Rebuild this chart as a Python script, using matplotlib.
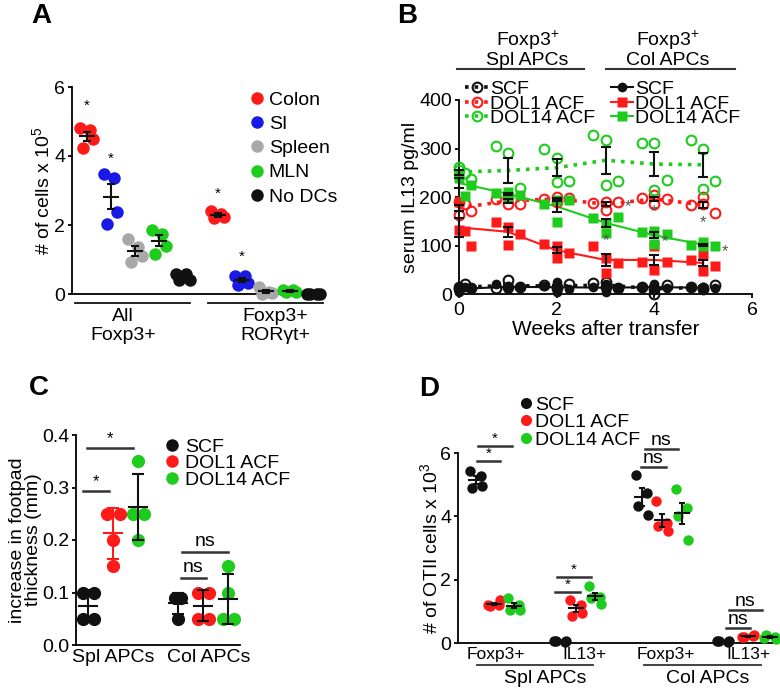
# figure with four panels A-D
import numpy as np
import matplotlib
matplotlib.use('Agg')
from matplotlib import pyplot as plt
from matplotlib.lines import Line2D

plt.rcParams['font.family'] = ['Liberation Sans', 'DejaVu Sans']
plt.rcParams['mathtext.default'] = 'regular'
plt.rcParams['axes.linewidth'] = 1.3
plt.rcParams['xtick.major.width'] = 1.3
plt.rcParams['ytick.major.width'] = 1.3
plt.rcParams['ytick.major.size'] = 3
plt.rcParams['xtick.major.size'] = 3
plt.rcParams['ytick.major.pad'] = 2
plt.rcParams['xtick.major.pad'] = 2.5

RED = '#ff1a1a'
BLUE = '#1a1ae6'
GRAY = '#a8a8a8'
GREEN = '#1ecc1e'
BLACK = '#111111'

# ---------------- panel A data ----------------
a_names = ['Colon', 'SI', 'Spleen', 'MLN', 'No DCs']
a_colors = [RED, BLUE, GRAY, GREEN, BLACK]
a_all = [[4.81, 4.74, 4.50, 4.23],
         [3.49, 3.37, 2.37, 2.03],
         [1.58, 1.37, 1.10, 0.94],
         [1.85, 1.75, 1.40, 1.16],
         [0.58, 0.58, 0.40, 0.40]]
a_ror = [[2.41, 2.33, 2.24, 2.19],
         [0.52, 0.52, 0.31, 0.26],
         [0.21, 0.07, 0.02, 0.00],
         [0.12, 0.12, 0.05, 0.05],
         [0.00, 0.00, 0.00, 0.00]]
a_pos1 = [0, 1, 2, 3, 4]
a_pos2 = [5.45, 6.45, 7.45, 8.45, 9.45]
a_groups = ['All\nFoxp3+', 'Foxp3+\nROR\u03b3t+']
a_star_x = [0, 1, 5.45, 6.45]
a_star_y = [5.25, 3.72, 2.7, 0.87]

# ---------------- panel B data ----------------
weeks = [0, 1, 2, 3, 4, 5]
spl_scf = [[15, 10, 20, 12], [12, 28, 15, 14], [18, 15, 12, 20],
           [22, 15, 25, 12], [15, 0, 10, 18], [15, 12, 10, 18]]
spl_dol1 = [[190, 163, 185, 172], [196, 186, 200, 186], [196, 200, 190, 198],
            [188, 173, 190, 190], [197, 186, 204, 196], [183, 199, 186, 168]]
spl_dol14 = [[262, 256, 250, 238], [306, 290, 205, 218], [300, 280, 230, 232],
             [328, 318, 225, 232], [312, 311, 214, 235], [318, 298, 216, 234]]
col_scf = [[10, 5, 15, 12], [20, 14, 10, 15], [16, 5, 25, 10],
           [15, 5, 20, 12], [15, 20, 10, 12], [14, 10, 15, 12]]
col_dol1 = [[190, 132, 130, 98], [149, 139, 101, 124], [104, 98, 75, 84],
            [99, 75, 44, 63], [67, 98, 49, 67], [70, 80, 48, 58]]
col_dol14 = [[248, 240, 202, 225], [209, 202, 211, 205], [185, 194, 149, 194],
             [157, 146, 125, 159], [127, 130, 104, 123], [102, 98, 108, 99]]
b_off_first = [0, 0, 0.12, 0.25]
b_off = [-0.25, 0, 0, 0.25]
b_star_x = [3.47, 3.02, 4.0, 4.22, 5.0, 5.44]
b_star_y = [165, 94, 155, 93, 132, 72]

# ---------------- panel C data ----------------
c_labels = ['SCF', 'DOL1 ACF', 'DOL14 ACF']
c_colors = [BLACK, RED, GREEN]
c_spl = [[0.10, 0.10, 0.05, 0.05], [0.25, 0.25, 0.20, 0.15], [0.35, 0.25, 0.25, 0.20]]
c_col = [[0.09, 0.09, 0.09, 0.05], [0.10, 0.10, 0.05, 0.05], [0.15, 0.10, 0.05, 0.05]]
c_spl_off = [[-0.22, 0.22, -0.22, 0.22], [-0.25, 0.25, 0, 0], [0, -0.21, 0.21, 0]]
c_col_off = [[-0.12, 0.1, 0, 0], [-0.22, 0.22, -0.22, 0.22], [0, 0, -0.22, 0.22]]
c_pos = [0, 1, 2, 3.6, 4.6, 5.6]

# ---------------- panel D data ----------------
d_spl_foxp3 = [[5.42, 5.26, 4.89, 4.97], [1.20, 1.20, 1.18, 1.35], [1.42, 1.20, 1.05, 1.05]]
d_spl_il13 = [[0.05, 0.04, 0.06, 0.05], [1.37, 1.21, 0.84, 0.95], [1.79, 1.45, 1.42, 1.24]]
d_col_foxp3 = [[5.32, 4.74, 4.32, 4.03], [4.47, 3.80, 3.70, 3.53], [4.85, 4.25, 4.00, 3.26]]
d_col_il13 = [[0.05, 0.04, 0.06, 0.05], [0.20, 0.22, 0.18, 0.25], [0.15, 0.20, 0.25, 0.12]]
d_pos = [[0, 0.9, 1.9], [4.2, 5.0, 5.95], [8.3, 9.3, 10.3], [12.35, 13.6, 14.7]]
d_off = [-0.3, 0.25, -0.2, 0.3]
d_ticks = [1.0, 5.4, 9.5, 13.6]
d_ticklabels = ['Foxp3+', 'IL13+', 'Foxp3+', 'IL13+']


W, H = 780, 693
fig = plt.figure(figsize=(W / 100, H / 100), dpi=100)


def px_axes(l, r, t, b):
    return fig.add_axes([l / W, 1 - b / H, (r - l) / W, (b - t) / H])


def clean(ax):
    ax.spines['top'].set_visible(False)
    ax.spines['right'].set_visible(False)
    ax.tick_params(labelsize=14, direction='out')


def dots(ax, x, vals, offs, color, ms, half, cap, ecolor=BLACK, sem=True):
    vals = np.array(vals, dtype=float)
    m = vals.mean()
    s = vals.std(ddof=1)
    if sem:
        s = s / np.sqrt(len(vals))
    ax.plot(x + np.array(offs), vals, 'o', color=color, ms=ms, mec='none',
            clip_on=False, zorder=3)
    ax.plot([x - half, x + half], [m, m], color=ecolor, lw=1.5, zorder=4,
            clip_on=False)
    ax.errorbar(x, m, yerr=s, fmt='none', ecolor=ecolor, elinewidth=1.5,
                capsize=cap, capthick=1.5, zorder=4)


def sig(ax, x1, x2, y, txt, fs=11, dy=0.0):
    ax.plot([x1, x2], [y, y], color='#333333', lw=1.8, clip_on=False)
    ax.text((x1 + x2) / 2, y + dy, txt, ha='center', va='bottom',
            fontsize=fs, clip_on=False)


# ================= A =================
ax = px_axes(72, 323, 87, 294)
clean(ax)
a_off = [-0.3, 0.12, 0.27, -0.17]
for i in range(5):
    dots(ax, a_pos1[i], a_all[i], a_off, a_colors[i], 9, 0.28, 3)
    dots(ax, a_pos2[i], a_ror[i], a_off, a_colors[i], 9, 0.28, 3)
for sx, sy in zip(a_star_x, a_star_y):
    ax.text(sx, sy, '*', ha='center', va='bottom', fontsize=11)
ax.set_xlim(-0.625, 9.83)
ax.set_ylim(0, 6)
ax.set_yticks([0, 2, 4, 6])
ax.set_xticks([])
ax.set_ylabel('# of cells x 10$^5$', fontsize=14, labelpad=1)
tr = ax.get_xaxis_transform()
ax.plot([-0.5, 4.3], [-0.045, -0.045], color=BLACK, lw=1.3, transform=tr, clip_on=False)
ax.plot([5.04, 9.83], [-0.045, -0.045], color=BLACK, lw=1.3, transform=tr, clip_on=False)
ax.text(1.5, -0.068, a_groups[0], transform=tr, ha='center', va='top', fontsize=14,
        linespacing=1.18)
ax.text(7.83, -0.068, a_groups[1], transform=tr, ha='center', va='top', fontsize=14,
        linespacing=1.18)
hs = [Line2D([], [], marker='o', ls='none', color=c, ms=9, mec='none') for c in a_colors]
ax.legend(hs, a_names, loc='upper left', bbox_to_anchor=(0.71, 0.98), frameon=False,
          fontsize=14, handlelength=0.7, handletextpad=0.25, labelspacing=0.34,
          borderpad=0, borderaxespad=0)

# ================= B =================
ax = px_axes(459, 752, 100, 294)
clean(ax)
series = [
    (spl_scf, BLACK, ':', 'o', False, 7, 'SCF'),
    (spl_dol1, RED, ':', 'o', False, 7, 'DOL1 ACF'),
    (spl_dol14, GREEN, ':', 'o', False, 7, 'DOL14 ACF'),
    (col_scf, BLACK, '-', 'o', True, 7, 'SCF'),
    (col_dol1, RED, '-', 's', True, 6.5, 'DOL1 ACF'),
    (col_dol14, GREEN, '-', 's', True, 6.5, 'DOL14 ACF'),
]
for data, c, ls, mk, filled, ms, lab in series:
    means = [np.mean(v) for v in data]
    sems = [np.std(v, ddof=1) / np.sqrt(len(v)) for v in data]
    lw = 2.6 if ls == ':' else 1.5
    ax.plot(weeks, means, color=c, ls=ls, lw=lw, zorder=2, clip_on=False)
    for w, v in zip(weeks, data):
        offs = b_off_first if w == 0 else b_off
        xs = [w + o for o in offs]
        if filled:
            ax.plot(xs, v, mk, color=c, ms=ms, mec='none', ls='none', zorder=3,
                    clip_on=False)
        else:
            ax.plot(xs, v, mk, mfc='none', mec=c, mew=1.5, ms=ms, ls='none',
                    zorder=3, clip_on=False)
    ax.errorbar(weeks, means, yerr=sems, fmt='none', ecolor=BLACK, elinewidth=1.5,
                capsize=3.5, capthick=1.5, zorder=5, clip_on=False)
for sx, sy in zip(b_star_x, b_star_y):
    ax.text(sx, sy, '*', ha='center', va='bottom', fontsize=12, color='#555555')
ax.set_xlim(0, 6)
ax.set_ylim(0, 400)
ax.set_xticks([0, 2, 4, 6])
ax.set_yticks([0, 100, 200, 300, 400])
ax.set_xlabel('Weeks after transfer', fontsize=15, labelpad=1)
ax.set_ylabel('serum IL13 pg/ml', fontsize=14, labelpad=0)
tr = ax.get_xaxis_transform()
ax.plot([-0.04, 2.56], [1.16, 1.16], color='#333333', lw=1.5, transform=tr, clip_on=False)
ax.plot([3.02, 5.66], [1.16, 1.16], color='#333333', lw=1.5, transform=tr, clip_on=False)
ax.text(1.4, 1.158, 'Foxp3$^{+}$\nSpl APCs', transform=tr, ha='center', va='bottom',
        fontsize=14, linespacing=1.0)
ax.text(4.28, 1.158, 'Foxp3$^{+}$\nCol APCs', transform=tr, ha='center', va='bottom',
        fontsize=14, linespacing=1.0)
h_spl = []
h_col = []
for data, c, ls, mk, filled, ms, lab in series:
    if filled:
        h = Line2D([], [], color=c, ls=ls, lw=1.5, marker=mk, ms=ms, mec='none')
        h_col.append(h)
    else:
        h = Line2D([], [], color=c, ls=ls, lw=2.6, marker=mk, ms=ms, mfc='none',
                   mec=c, mew=1.5)
        h_spl.append(h)
leg1 = ax.legend(h_spl, ['SCF', 'DOL1 ACF', 'DOL14 ACF'], loc='upper left',
                 bbox_to_anchor=(0.02, 1.10), frameon=False, fontsize=14,
                 handlelength=1.2, handletextpad=0.1, labelspacing=-0.17,
                 borderpad=0, borderaxespad=0)
ax.add_artist(leg1)
ax.legend(h_col, ['SCF', 'DOL1 ACF', 'DOL14 ACF'], loc='upper left',
          bbox_to_anchor=(0.52, 1.10), frameon=False, fontsize=14,
          handlelength=1.1, handletextpad=0.1, labelspacing=-0.17,
          borderpad=0, borderaxespad=0)

# ================= C =================
ax = px_axes(76, 240, 435, 645)
clean(ax)
for i in range(3):
    ec = RED if i == 1 else BLACK
    dots(ax, c_pos[i], c_spl[i], c_spl_off[i], c_colors[i], 9.5, 0.36, 4.5,
         ecolor=ec, sem=False)
    dots(ax, c_pos[i + 3], c_col[i], c_col_off[i], c_colors[i], 9.5, 0.36, 4.5,
         sem=False)
sig(ax, -0.2, 0.84, 0.293, '*', fs=12, dy=0.004)
sig(ax, -0.04, 1.8, 0.375, '*', fs=12, dy=0.004)
sig(ax, 3.71, 4.71, 0.128, 'ns', fs=14, dy=0.003)
sig(ax, 3.74, 5.58, 0.178, 'ns', fs=14, dy=0.003)
ax.set_xlim(-0.49, 6.07)
ax.set_ylim(0, 0.4)
ax.set_yticks([0, 0.1, 0.2, 0.3, 0.4])
ax.set_yticklabels(['0.0', '0.1', '0.2', '0.3', '0.4'])
ax.set_xticks([1.0, 4.8])
ax.set_xticklabels(['Spl APCs', 'Col APCs'])
ax.tick_params(axis='x', length=0, pad=3)
ax.set_ylabel('increase in footpad\nthickness (mm)', fontsize=14, labelpad=0,
              linespacing=0.92)
hs = [Line2D([], [], marker='o', ls='none', color=c, ms=9, mec='none') for c in c_colors]
ax.legend(hs, c_labels, loc='upper left', bbox_to_anchor=(0.545, 0.985), frameon=False,
          fontsize=14, handlelength=0.7, handletextpad=0.3, labelspacing=-0.06,
          borderpad=0, borderaxespad=0)

# ================= D =================
ax = px_axes(458, 778, 453, 643)
clean(ax)
d_sets = [d_spl_foxp3, d_spl_il13, d_col_foxp3, d_col_il13]
for g, ds in enumerate(d_sets):
    for i in range(3):
        dots(ax, d_pos[g][i], ds[i], d_off, c_colors[i], 7.5, 0.33, 2.5)
sig(ax, 0.05, 1.2, 5.74, '*', fs=11, dy=0.02)
sig(ax, 0.1, 1.8, 6.21, '*', fs=11, dy=0.02)
sig(ax, 3.97, 5.2, 1.6, '*', fs=11, dy=0.02)
sig(ax, 4.05, 5.75, 2.07, '*', fs=11, dy=0.02)
sig(ax, 8.25, 9.5, 5.56, 'ns', fs=14, dy=0.0)
sig(ax, 8.45, 10.1, 6.13, 'ns', fs=14, dy=0.0)
sig(ax, 12.5, 13.7, 0.47, 'ns', fs=14, dy=0.0)
sig(ax, 12.65, 14.3, 1.03, 'ns', fs=14, dy=0.0)
ax.set_xlim(-0.9, 15.1)
ax.set_ylim(0, 6)
ax.set_yticks([0, 2, 4, 6])
ax.set_xticks(d_ticks)
ax.set_xticklabels(d_ticklabels, fontsize=12.5)
ax.tick_params(axis='x', length=0, pad=3)
ax.set_ylabel('# of OTII cells x 10$^3$', fontsize=14, labelpad=-1)
tr = ax.get_xaxis_transform()
ax.plot([0.05, 5.85], [-0.115, -0.115], color='#333333', lw=1.3, transform=tr, clip_on=False)
ax.plot([8.4, 14.25], [-0.115, -0.115], color='#333333', lw=1.3, transform=tr, clip_on=False)
ax.text(3.45, -0.14, 'Spl APCs', transform=tr, ha='center', va='top', fontsize=14)
ax.text(11.6, -0.14, 'Col APCs', transform=tr, ha='center', va='top', fontsize=14)
hs = [Line2D([], [], marker='o', ls='none', color=c, ms=8, mec='none') for c in c_colors]
ax.legend(hs, c_labels, loc='upper left', bbox_to_anchor=(0.195, 1.30), frameon=False,
          fontsize=14, handlelength=0.6, handletextpad=0.15, labelspacing=0.0,
          borderpad=0, borderaxespad=0)

# panel letters
for lab, x, y in [('A', 31, 3), ('B', 397, 3), ('C', 29, 375), ('D', 419, 376)]:
    fig.text(x / W, 1 - y / H, lab, fontsize=20, weight='bold', va='top', ha='left')

fig.savefig('out.png', dpi=100)
